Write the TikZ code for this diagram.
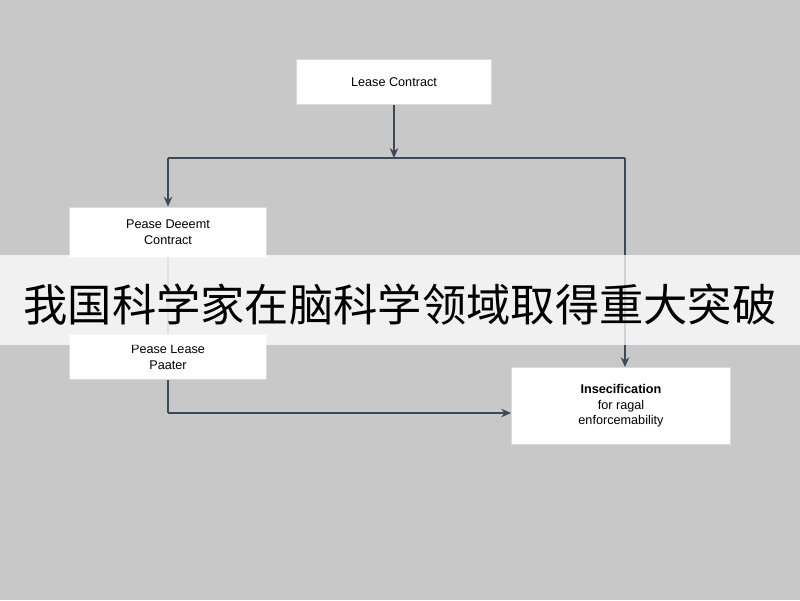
\documentclass[tikz,border=0pt]{standalone}
\usepackage{fontspec}
\setmainfont{Liberation Sans}
\newfontfamily\cjk{Noto Sans CJK SC}
\usetikzlibrary{arrows.meta,calc}
\definecolor{bg_grey}{RGB}{200, 200, 200}
\definecolor{ln_slate}{RGB}{60, 74, 88}
\tikzstyle{box}=[rectangle,fill=white,draw=white!85!black,
  line width=0.6 pt,inner sep=2pt,align=center,font=\small]
\tikzstyle{wire}=[draw=ln_slate,line width=1.1 pt]
\tikzstyle{arr}=[wire,-{Stealth[length=7pt,width=6pt]}]
\begin{document}
\begin{tikzpicture}[x=0.025cm, y=-0.025cm]
            \fill [bg_grey] (0, 0) rectangle (800, 600);
            \useasboundingbox (0, 0) rectangle (800, 600);
            \node [style=box, minimum width=195*0.025cm, minimum height=45*0.025cm] (0) at (394, 82) {Lease Contract};
            \node [style=box, minimum width=197*0.025cm, minimum height=50*0.025cm] (1) at (168, 232) {Pease Deeemt\\Contract};
            \node [style=box, minimum width=197*0.025cm, minimum height=45*0.025cm] (2) at (168, 357) {Pease Lease\\Paater};
            \node [style=box, minimum width=219*0.025cm, minimum height=77*0.025cm] (3) at (621, 406) {\textbf{Insecification}\\for ragal\\enforcemability};
            \coordinate (4) at (394, 158);
            \coordinate (5) at (168, 158);
            \coordinate (6) at (625, 158);
            \coordinate (7) at (168, 413);
            \draw [style=arr] (0) to (4);
            \draw [style=wire] (5) to (6);
            \draw [style=arr] (5) to (1);
            \draw [style=arr] (6) to (6 |- 3.north);
            \draw [style=wire, opacity=0.5] (1) to (2);
            \draw [style=wire] (2) to (7);
            \draw [style=arr] (7) to (3.west |- 7);
            \fill [white, opacity=0.75] (0, 255) rectangle (800, 345);
            \node [font=\cjk\fontsize{31.5}{34}\selectfont] (8) at (400, 305) {我国科学家在脑科学领域取得重大突破};
    \end{tikzpicture}
\end{document}
